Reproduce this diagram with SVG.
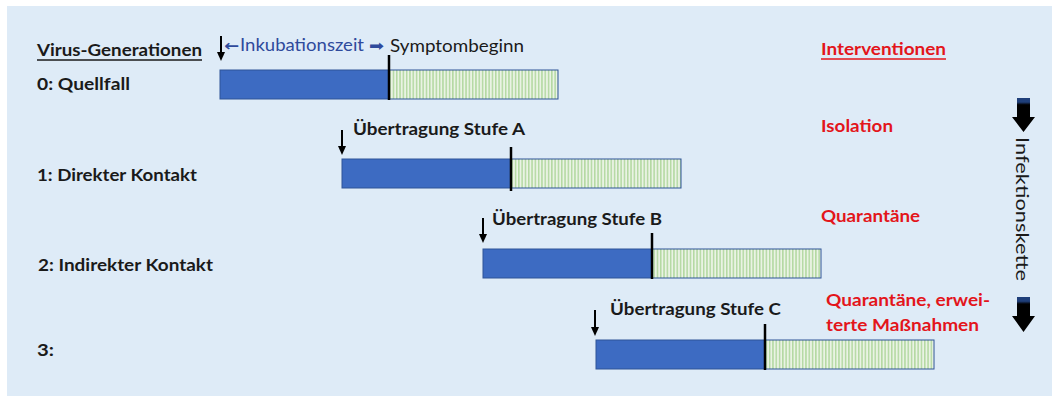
<svg xmlns="http://www.w3.org/2000/svg" width="1052" height="396" viewBox="0 0 1052 396">
<style>
  .lbl{font-family:"Lato","Open Sans","Liberation Sans",sans-serif;font-weight:bold;font-size:17px;fill:#1a1a1a}
  .red{font-family:"Lato","Open Sans","Liberation Sans",sans-serif;font-weight:bold;font-size:17.5px;fill:#e3151b}
  .reg{font-family:"Lato","Open Sans","Liberation Sans",sans-serif;font-size:17px;fill:#1a1a1a}
  .blu{font-family:"Lato","Open Sans","Liberation Sans",sans-serif;font-size:17px;fill:#2f4a9c}
  .inc{fill:#3d6bc2;stroke:#2f5597;stroke-width:1}
  .sym{fill:url(#stripes);stroke:#2f5597;stroke-width:1}
  .onset{stroke:#000;stroke-width:2.5}
</style>
<defs>
  <pattern id="stripes" patternUnits="userSpaceOnUse" width="3.3" height="10">
    <rect width="3.3" height="10" fill="#eaf3e4"/>
    <rect width="1.5" height="10" fill="#b4d9a2"/>
  </pattern>
  <linearGradient id="bk" x1="0" y1="0" x2="0" y2="1">
    <stop offset="0" stop-color="#1f3f7a"/>
    <stop offset="0.12" stop-color="#1f3f7a"/>
    <stop offset="0.2" stop-color="#000"/>
    <stop offset="1" stop-color="#000"/>
  </linearGradient>
</defs>
<rect x="7" y="6" width="1045" height="390" fill="#deebf7"/>

<g id="header">
  <text class="lbl" x="37" y="56" textLength="165" lengthAdjust="spacingAndGlyphs">Virus-Generationen</text>
  <line x1="37" y1="60" x2="202" y2="60" stroke="#1a1a1a" stroke-width="1.3"/>
  <text x="224" y="51" font-family="DejaVu Sans,sans-serif" font-size="15" font-weight="bold" fill="#2f4a9c" textLength="15" lengthAdjust="spacingAndGlyphs">←</text>
  <text class="blu" x="240" y="51" textLength="124" lengthAdjust="spacingAndGlyphs">Inkubationszeit</text>
  <text x="369" y="51" font-family="DejaVu Sans,sans-serif" font-size="15" fill="#2f4a9c" textLength="15" lengthAdjust="spacingAndGlyphs">➡</text>
  <text class="reg" x="390" y="52" textLength="134" lengthAdjust="spacingAndGlyphs">Symptombeginn</text>
  <text class="red" x="821" y="55" textLength="125" lengthAdjust="spacingAndGlyphs">Interventionen</text>
  <line x1="821" y1="59" x2="946" y2="59" stroke="#e3151b" stroke-width="1.3"/>
</g>

<g id="gen0">
  <text class="lbl" x="37" y="90" textLength="93" lengthAdjust="spacingAndGlyphs">0: Quellfall</text>
  <rect class="inc" x="220" y="70" width="169" height="29"/>
  <rect class="sym" x="389" y="70" width="169" height="29"/>
</g>

<g id="gen1">
  <text class="lbl" x="37" y="181" textLength="160" lengthAdjust="spacingAndGlyphs">1: Direkter Kontakt</text>
  <text class="lbl" x="353" y="135" textLength="172" lengthAdjust="spacingAndGlyphs">Übertragung Stufe A</text>
  <text class="red" x="821" y="132" textLength="72" lengthAdjust="spacingAndGlyphs">Isolation</text>
  <rect class="inc" x="342" y="159" width="169" height="29"/>
  <rect class="sym" x="511" y="159" width="170" height="29"/>
</g>

<g id="gen2">
  <text class="lbl" x="38" y="271" textLength="175" lengthAdjust="spacingAndGlyphs">2: Indirekter Kontakt</text>
  <text class="lbl" x="492" y="225" textLength="170" lengthAdjust="spacingAndGlyphs">Übertragung Stufe B</text>
  <text class="red" x="821" y="222" textLength="99" lengthAdjust="spacingAndGlyphs">Quarantäne</text>
  <rect class="inc" x="483" y="249" width="169" height="29"/>
  <rect class="sym" x="652" y="249" width="169" height="29"/>
</g>

<g id="gen3">
  <text class="lbl" x="37" y="356" textLength="17" lengthAdjust="spacingAndGlyphs">3:</text>
  <text class="lbl" x="610" y="315" textLength="171" lengthAdjust="spacingAndGlyphs">Übertragung Stufe C</text>
  <text class="red" x="826" y="306" textLength="164" lengthAdjust="spacingAndGlyphs">Quarantäne, erwei-</text>
  <text class="red" x="826" y="331" textLength="153" lengthAdjust="spacingAndGlyphs">terte Maßnahmen</text>
  <rect class="inc" x="596" y="340" width="169" height="29"/>
  <rect class="sym" x="765" y="340" width="169" height="29"/>
</g>

<g id="chain">
  <polygon points="1017,98 1030,98 1030,117 1035,117 1023.5,132 1012,117 1017,117" fill="url(#bk)"/>
  <text class="reg" font-size="20" x="1016" y="137" transform="rotate(90 1016 137)" textLength="144" lengthAdjust="spacingAndGlyphs">Infektionskette</text>
  <polygon points="1017,297 1030,297 1030,316 1035,316 1023.5,332 1012,316 1017,316" fill="url(#bk)"/>
</g>

<g id="connectors">
  <line class="onset" x1="389" y1="55" x2="389" y2="100"/>
  <line class="onset" x1="511" y1="147" x2="511" y2="191"/>
  <line class="onset" x1="652" y1="233" x2="652" y2="279"/>
  <line class="onset" x1="765" y1="324" x2="765" y2="370"/>
  <line x1="221" y1="36" x2="221" y2="53" stroke="#000" stroke-width="2"/>
  <polygon points="217,52 225,52 221,61" fill="#000"/>
  <line x1="342" y1="130" x2="342" y2="147" stroke="#000" stroke-width="2"/>
  <polygon points="338,146 346,146 342,155" fill="#000"/>
  <line x1="483" y1="218" x2="483" y2="235" stroke="#000" stroke-width="2"/>
  <polygon points="479,234 487,234 483,243" fill="#000"/>
  <line x1="595" y1="310" x2="595" y2="328" stroke="#000" stroke-width="2"/>
  <polygon points="591,327 599,327 595,336" fill="#000"/>
</g>
</svg>
